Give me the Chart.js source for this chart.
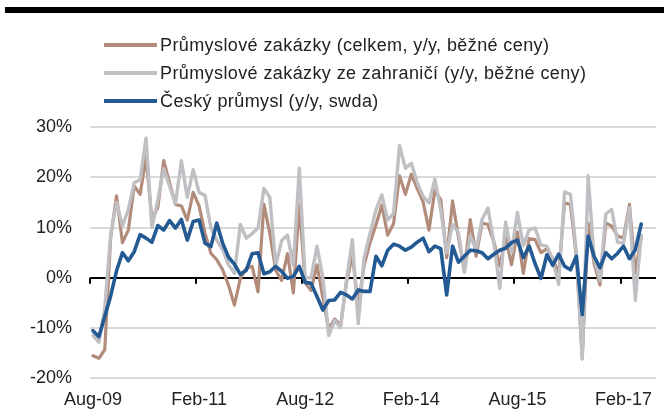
<!DOCTYPE html>
<html lang="cs">
<head>
<meta charset="utf-8">
<title>Průmyslové zakázky</title>
<script src="https://cdn.jsdelivr.net/npm/chart.js@4.4.1/dist/chart.umd.min.js"></script>
<style>
  html, body { margin: 0; padding: 0; background: #fff; }
  #wrap { position: relative; width: 664px; height: 415px; overflow: hidden; }
  #topbar { position: absolute; left: 5px; right: 0; top: 7px; height: 6px; background: #000; }
  #legend { position: absolute; left: 104px; top: 31px; font: 18px "Liberation Sans", Arial, sans-serif; letter-spacing: 0.4px; color: #222; }
  #legend .row { display: flex; align-items: center; height: 28px; white-space: nowrap; }
  #legend .swatch { width: 53px; height: 4px; margin-right: 3px; }
  /* a bit taller than the window: Chart.js counts tick padding twice in the x axis height */
  #chartBox { position: absolute; left: 0; top: 0; width: 664px; height: 422px; }
</style>
</head>
<body>
<div id="wrap">
  <div id="topbar"></div>
  <div id="chartBox"><canvas id="c"></canvas></div>
  <div id="legend"></div>
</div>
<script>
// ===== Data (monthly, Aug-09 .. May-17), % y/y =====
const MONTH_NAMES = ["Jan","Feb","Mar","Apr","May","Jun","Jul","Aug","Sep","Oct","Nov","Dec"];
const START_YEAR = 2009, START_MONTH = 7;   // Aug-09
const N_CATS = 96;                          // axis runs two months past the last value
const TICK_LABELS = ["Aug-09","Feb-11","Aug-12","Feb-14","Aug-15","Feb-17"];

const categories = [];
for (let k = 0; k < N_CATS; k++) {
  const m = (START_MONTH + k) % 12;
  const y = START_YEAR + Math.floor((START_MONTH + k) / 12);
  categories.push(MONTH_NAMES[m] + "-" + String(y % 100).padStart(2, "0"));
}

const SERIES_NAMES = [
  "Průmyslové zakázky (celkem, y/y, běžné ceny)",
  "Průmyslové zakázky ze zahraničí (y/y, běžné ceny)",
  "Český průmysl (y/y, swda)"
];

const zakazkyCelkem = [
  -15.5,-16.0,-14.3,8.0,16.3,7.0,9.5,18.3,16.6,24.0,11.6,14.0,
  23.3,18.9,14.6,14.3,11.5,17.0,14.3,8.9,4.9,3.6,1.6,-1.5,
  -5.4,-0.1,1.9,2.3,-2.8,14.6,8.9,1.5,-0.5,4.8,-3.0,14.6,
  -1.0,-2.5,2.6,-4.0,-10.2,-8.2,-9.5,-1.0,4.6,-5.5,2.5,7.0,
  10.5,14.5,8.5,10.8,20.3,16.6,20.6,17.8,15.1,9.5,17.4,15.5,
  4.0,15.3,8.0,1.3,11.6,4.3,10.9,10.6,7.2,2.4,8.0,2.6,
  9.1,0.9,7.8,7.6,5.0,5.8,3.8,0.9,14.9,14.6,4.3,-16.1,
  10.9,2.9,-1.4,10.9,10.3,8.3,7.9,14.6,1.0,8.0
];

const zakazkyZahranici = [
  -11.5,-12.8,-6.0,8.6,15.0,10.3,13.6,18.9,19.5,27.8,10.0,15.5,
  21.7,18.2,14.8,23.3,16.0,21.5,17.0,16.4,10.0,7.5,5.6,2.6,
  0.9,10.6,7.9,8.8,9.9,17.8,16.0,2.5,7.4,8.5,2.4,21.8,
  0.0,0.0,6.3,0.0,-11.5,-8.5,-9.9,-0.5,7.6,-9.1,4.0,8.8,
  13.5,16.5,11.5,12.8,26.3,21.8,22.8,19.0,16.2,14.9,19.6,13.5,
  5.0,10.6,9.0,1.1,8.4,5.5,11.6,13.9,7.0,-2.1,11.1,5.0,
  13.0,6.4,9.6,9.9,6.5,6.3,3.5,-1.3,17.1,16.6,5.0,-16.1,
  20.3,4.0,-0.5,12.7,13.6,7.1,6.9,14.0,-4.5,8.5
];

const ceskyPrumysl = [
  -10.5,-11.7,-7.7,-3.6,1.4,5.0,3.4,5.2,8.6,7.9,7.1,10.4,
  9.5,11.4,9.9,11.6,7.5,11.2,11.5,6.9,6.2,10.9,6.9,4.1,
  2.7,0.7,1.5,4.8,5.0,0.8,1.2,2.3,1.3,-0.1,0.3,2.3,
  -0.9,-1.1,-3.7,-6.4,-4.5,-4.4,-2.9,-3.4,-4.2,-2.4,-2.7,-2.7,
  4.3,2.4,5.5,6.7,6.3,5.5,6.1,7.1,7.9,5.2,6.3,5.8,
  -3.4,6.3,3.1,4.3,5.5,5.4,5.0,3.8,4.7,5.5,5.9,7.0,
  7.5,4.0,6.3,2.8,-0.1,4.6,2.5,4.7,2.3,1.6,4.3,-7.3,
  8.3,4.3,2.0,5.0,3.8,4.9,6.3,3.8,5.6,10.7
];

const Y_TICKS = [-20, -10, 0, 10, 20, 30];

const COLORS = ["#b28b7b", "#c0c0c4", "#245a93"];
const WIDTHS = [3.2, 3.4, 3.6];
const FONT = "'Liberation Sans', Arial, sans-serif";

// ===== small tick marks on the zero line, between categories =====
const zeroTicks = {
  id: "zeroTicks",
  beforeDatasetsDraw(chart) {
    const xs = chart.scales.x, ys = chart.scales.y;
    const ctx = chart.ctx;
    const half = (xs.getPixelForValue(1) - xs.getPixelForValue(0)) / 2;
    const y0 = ys.getPixelForValue(0);
    ctx.save();
    ctx.strokeStyle = "#000";
    ctx.lineWidth = 2;
    categories.forEach((c, i) => {
      if (!TICK_LABELS.includes(c)) return;
      const x = Math.round(xs.getPixelForValue(i) - half);
      ctx.beginPath();
      ctx.moveTo(x, y0);
      ctx.lineTo(x, y0 + 6);
      ctx.stroke();
    });
    ctx.restore();
  }
};

const series = [zakazkyCelkem, zakazkyZahranici, ceskyPrumysl];
const datasets = series.map((vals, k) => ({
  label: SERIES_NAMES[k],
  data: vals,
  borderColor: COLORS[k],
  backgroundColor: COLORS[k],
  borderWidth: WIDTHS[k],
  pointRadius: 0,
  tension: 0,
  borderJoinStyle: "round",
  borderCapStyle: "round",
  order: 3 - k            // blue on top, then grey, brown at the bottom
}));

const chart = new Chart(document.getElementById("c"), {
  type: "line",
  data: { labels: categories, datasets },
  options: {
    responsive: true,
    maintainAspectRatio: false,
    animation: false,
    layout: { padding: { left: 12, right: 1, top: 127, bottom: 0 } },
    plugins: { legend: { display: false }, tooltip: { enabled: false } },
    scales: {
      x: {
        type: "category",
        offset: true,
        grid: { display: false, drawTicks: false },
        border: { display: false },
        ticks: {
          autoSkip: false, maxRotation: 0, minRotation: 0, padding: 11,
          color: "#222", font: { family: FONT, size: 18 },
          callback: (v, i) => TICK_LABELS.includes(categories[i]) ? categories[i] : ""
        }
      },
      y: {
        min: -20, max: 30,
        afterBuildTicks: (s) => { s.ticks = Y_TICKS.map(v => ({ value: v })); },
        grid: {
          drawTicks: false,
          lineWidth: 2,
          color: (c) => c.tick && c.tick.value === 0 ? "#000" : "#d9d9d9"
        },
        border: { display: false },
        ticks: {
          padding: 18, color: "#222", font: { family: FONT, size: 18 },
          callback: (v) => v + "%"
        }
      }
    }
  },
  plugins: [zeroTicks]
});

// ===== legend (one row per series) =====
const legend = document.getElementById("legend");
chart.data.datasets.forEach((ds) => {
  const row = document.createElement("div");
  row.className = "row";
  const sw = document.createElement("span");
  sw.className = "swatch";
  sw.style.background = ds.borderColor;
  const tx = document.createElement("span");
  tx.textContent = ds.label;
  row.appendChild(sw);
  row.appendChild(tx);
  legend.appendChild(row);
});
</script>
</body>
</html>
